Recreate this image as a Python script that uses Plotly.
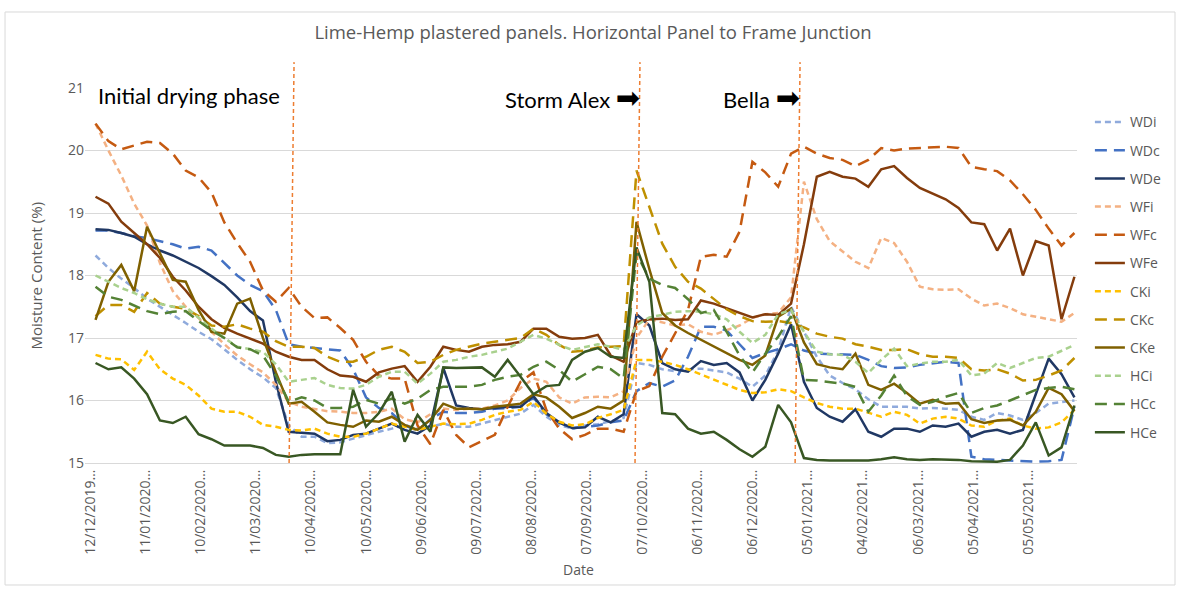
import pandas as pd
import plotly.graph_objects as go

# weekly readings (dates) and moisture content (%) per sensor
dates = pd.date_range("2019-12-15", periods=77, freq="7D")

WDi = [18.32, 18.12, 17.95, 17.8, 17.63, 17.5, 17.38, 17.24, 17.1, 16.98, 16.82, 16.65, 16.5, 16.37, 16.2, 15.6, 15.42, 15.42, 15.32, 15.33,
       15.39, 15.45, 15.5, 15.55, 15.61, 15.55, 15.58, 15.63, 15.58, 15.58, 15.63, 15.69, 15.74, 15.79, 15.93, 15.74, 15.61, 15.55, 15.6, 15.62, 15.67, 15.72,
       16.6, 16.57, 16.5, 16.47, 16.5, 16.51, 16.48, 16.45, 16.35, 16.22, 16.4, 16.8, 17.5,
       17.1, 16.7, 16.4, 16.28, 16.18, 16.02, 15.9, 15.9, 15.9, 15.87, 15.88, 15.87, 15.85, 15.74, 15.69, 15.8, 15.76, 15.69, 15.8, 15.95, 15.98, 16.0]
WDc = [18.72, 18.72, 18.68, 18.63, 18.6, 18.55, 18.5, 18.43, 18.46, 18.4, 18.2, 18.0, 17.85, 17.75, 17.45, 16.9, 16.86, 16.84, 16.82, 16.8,
       16.5, 16.05, 15.88, 15.8, 15.6, 15.52, 15.7, 15.82, 15.8, 15.8, 15.82, 15.87, 15.88, 15.9, 16.05, 15.78, 15.65, 15.55, 15.58, 15.6, 15.65, 15.68,
       16.15, 16.28, 16.22, 16.32, 16.7, 17.18, 17.18, 17.12, 16.9, 16.68, 16.76, 16.82, 16.9,
       16.8, 16.75, 16.74, 16.73, 16.73, 16.65, 16.55, 16.52, 16.53, 16.57, 16.6, 16.62, 16.6, 15.1, 15.06, 15.05, 15.03, 15.02, 15.02, 15.03, 15.05, 15.9]
WDe = [18.74, 18.73, 18.68, 18.62, 18.5, 18.4, 18.32, 18.22, 18.12, 17.99, 17.85, 17.65, 17.43, 17.28, 16.3, 15.5, 15.48, 15.47, 15.35, 15.37,
       15.45, 15.47, 15.55, 15.63, 15.53, 15.47, 15.6, 16.52, 15.92, 15.88, 15.86, 15.88, 15.9, 15.9, 16.07, 15.8, 15.65, 15.56, 15.57, 15.74, 15.65, 15.78,
       17.38, 17.2, 16.6, 16.5, 16.46, 16.63, 16.57, 16.6, 16.45, 16.0, 16.33, 16.75, 17.22,
       16.3, 15.88, 15.74, 15.66, 15.86, 15.5, 15.42, 15.55, 15.55, 15.5, 15.6, 15.58, 15.63, 15.42, 15.5, 15.53, 15.47, 15.53, 16.1, 16.67, 16.42, 16.05]
WFi = [20.43, 20.0, 19.6, 19.15, 18.8, 18.2, 17.75, 17.5, 17.32, 17.1, 16.9, 16.72, 16.58, 16.45, 16.25, 15.98, 15.9, 15.86, 15.83, 15.82,
       15.8, 15.8, 15.82, 15.87, 15.7, 15.65, 15.78, 15.87, 15.85, 15.87, 15.87, 15.92, 16.0, 16.2, 16.35, 16.3, 16.05, 15.95, 16.05, 16.06, 16.05, 16.15,
       17.0, 17.3, 17.25, 17.2, 17.22, 17.1, 17.05, 17.12, 17.2, 17.32, 17.38, 17.4, 17.65,
       19.5, 18.9, 18.55, 18.38, 18.22, 18.12, 18.6, 18.52, 18.22, 17.82, 17.78, 17.77, 17.78, 17.63, 17.52, 17.55, 17.48, 17.38, 17.34, 17.3, 17.26, 17.4]
WFc = [20.43, 20.15, 20.02, 20.08, 20.14, 20.12, 19.95, 19.68, 19.57, 19.33, 18.85, 18.52, 18.22, 17.76, 17.58, 17.8, 17.5, 17.32, 17.33, 17.16,
       16.97, 16.62, 16.4, 16.35, 16.35, 15.6, 15.3, 15.85, 15.45, 15.25, 15.35, 15.45, 15.9, 16.3, 16.45, 15.85, 15.55, 15.38, 15.45, 15.55, 15.55, 15.5,
       16.15, 16.23, 16.7, 17.08, 17.45, 18.3, 18.33, 18.3, 18.7, 19.82, 19.65, 19.42, 19.95,
       20.06, 19.95, 19.88, 19.85, 19.75, 19.85, 20.04, 20.0, 20.03, 20.04, 20.06, 20.06, 20.04, 19.74, 19.7, 19.67, 19.52, 19.3, 19.05, 18.75, 18.48, 18.68]
WFe = [19.26, 19.15, 18.86, 18.68, 18.5, 18.28, 17.98, 17.76, 17.5, 17.3, 17.16, 17.07, 16.99, 16.91, 16.78, 16.7, 16.65, 16.65, 16.5, 16.4,
       16.38, 16.3, 16.45, 16.51, 16.55, 16.3, 16.54, 16.86, 16.81, 16.78, 16.86, 16.89, 16.9, 16.94, 17.15, 17.15, 17.02, 16.99, 17.0, 17.05, 16.72, 16.62,
       17.25, 17.3, 17.31, 17.29, 17.3, 17.6, 17.55, 17.48, 17.4, 17.33, 17.38, 17.37, 17.55,
       18.5, 19.58, 19.66, 19.58, 19.55, 19.42, 19.7, 19.75, 19.56, 19.4, 19.31, 19.22, 19.08, 18.85, 18.82, 18.4, 18.75, 18.0, 18.55, 18.48, 17.3, 17.98]
CKi = [16.73, 16.67, 16.66, 16.49, 16.78, 16.5, 16.35, 16.25, 16.08, 15.87, 15.82, 15.82, 15.74, 15.61, 15.58, 15.53, 15.52, 15.55, 15.47, 15.42,
       15.42, 15.47, 15.55, 15.63, 15.58, 15.53, 15.58, 15.63, 15.62, 15.63, 15.69, 15.77, 15.82, 15.85, 15.98, 15.79, 15.66, 15.6, 15.62, 15.72, 15.78, 15.85,
       16.65, 16.65, 16.62, 16.57, 16.5, 16.42, 16.33, 16.25, 16.17, 16.12, 16.13, 16.18, 16.15,
       16.05, 15.96, 15.9, 15.87, 15.87, 15.8, 15.74, 15.82, 15.77, 15.63, 15.71, 15.74, 15.71, 15.6, 15.58, 15.68, 15.71, 15.6, 15.55, 15.57, 15.65, 15.85]
CKc = [17.35, 17.53, 17.53, 17.42, 17.72, 17.55, 17.5, 17.47, 17.35, 17.2, 17.18, 17.22, 17.15, 17.1, 16.95, 16.86, 16.86, 16.84, 16.7, 16.62,
       16.62, 16.7, 16.81, 16.86, 16.78, 16.6, 16.62, 16.73, 16.81, 16.86, 16.91, 16.94, 16.97, 17.0, 17.15, 17.05, 16.89, 16.78, 16.8, 16.85, 16.86, 16.87,
       19.68, 19.1, 18.51, 18.14, 17.9, 17.79, 17.62, 17.46, 17.35, 17.27, 17.26, 17.27, 17.24,
       17.17, 17.07, 17.02, 16.99, 16.9, 16.86, 16.81, 16.81, 16.82, 16.74, 16.7, 16.7, 16.68, 16.5, 16.48, 16.5, 16.43, 16.32, 16.33, 16.4, 16.48, 16.68]
CKe = [17.29, 17.9, 18.17, 17.75, 18.78, 18.35, 17.93, 17.9, 17.45, 17.1, 17.07, 17.55, 17.63, 17.0, 16.45, 15.95, 15.98, 15.82, 15.65, 15.61,
       15.58, 15.68, 15.66, 15.74, 15.61, 15.53, 15.69, 15.95, 15.87, 15.87, 15.86, 15.9, 15.93, 15.95, 16.1, 16.05, 15.9, 15.72, 15.8, 15.9, 15.87, 16.0,
       18.86, 18.1, 17.4, 17.2, 17.08, 16.97, 16.87, 16.76, 16.65, 16.57, 16.72, 17.34, 17.47,
       16.93, 16.58, 16.53, 16.5, 16.75, 16.25, 16.17, 16.27, 16.12, 15.95, 16.01, 15.95, 15.96, 15.7, 15.64, 15.68, 15.69, 15.6, 15.82, 16.2, 16.1, 15.83]
HCi = [18.0, 17.9, 17.8, 17.72, 17.62, 17.55, 17.5, 17.5, 17.33, 17.15, 17.0, 16.86, 16.82, 16.78, 16.58, 16.3, 16.33, 16.36, 16.25, 16.2,
       16.19, 16.25, 16.38, 16.46, 16.46, 16.27, 16.43, 16.62, 16.65, 16.7, 16.73, 16.78, 16.83, 16.94, 17.05, 16.99, 16.89, 16.81, 16.85, 16.9, 16.86, 16.81,
       17.2, 17.33, 17.37, 17.42, 17.43, 17.42, 17.38, 17.3, 17.1, 16.92, 17.05, 17.38, 17.45,
       17.1, 16.78, 16.74, 16.73, 16.62, 16.44, 16.65, 16.83, 16.55, 16.59, 16.62, 16.62, 16.65, 16.4, 16.43, 16.6, 16.52, 16.6, 16.68, 16.7, 16.8, 16.89]
HCc = [17.82, 17.66, 17.61, 17.52, 17.43, 17.38, 17.42, 17.43, 17.28, 17.12, 17.0, 16.85, 16.82, 16.72, 16.4, 15.98, 16.05, 16.0, 15.88, 15.88,
       15.9, 16.01, 15.95, 16.03, 15.95, 16.03, 16.17, 16.22, 16.22, 16.22, 16.25, 16.33, 16.38, 16.41, 16.54, 16.62, 16.49, 16.3, 16.42, 16.54, 16.5, 16.35,
       18.35, 17.95, 17.85, 17.8, 17.62, 17.4, 17.45, 17.1, 16.72, 16.45, 16.75, 17.02, 17.35,
       16.33, 16.32, 16.3, 16.27, 16.22, 15.82, 16.08, 16.4, 16.07, 15.93, 15.98, 16.06, 16.12, 15.8, 15.88, 15.92, 16.0, 16.08, 16.17, 16.2, 16.22, 16.18]
HCe = [16.6, 16.5, 16.53, 16.35, 16.1, 15.68, 15.64, 15.74, 15.46, 15.38, 15.28, 15.28, 15.28, 15.24, 15.13, 15.1, 15.13, 15.14, 15.14, 15.14,
       16.17, 15.58, 15.8, 16.14, 15.34, 15.77, 15.5, 16.53, 16.52, 16.52, 16.53, 16.38, 16.65, 16.38, 16.1, 16.23, 16.25, 16.65, 16.78, 16.84, 16.7, 16.68,
       18.45, 17.9, 15.8, 15.78, 15.55, 15.47, 15.5, 15.37, 15.22, 15.1, 15.26, 15.93, 15.65,
       15.08, 15.05, 15.04, 15.04, 15.04, 15.04, 15.06, 15.09, 15.06, 15.05, 15.06, 15.06, 15.05, 15.03, 15.02, 15.02, 15.05, 15.28, 15.65, 15.12, 15.25, 15.92]

names = ["WDi", "WDc", "WDe", "WFi", "WFc", "WFe", "CKi", "CKc", "CKe", "HCi", "HCc", "HCe"]
values = [WDi, WDc, WDe, WFi, WFc, WFe, CKi, CKc, CKe, HCi, HCc, HCe]
colors = ["#8FAADC", "#4472C4", "#203864", "#F4B183", "#C55A11", "#843C0C",
          "#FFC000", "#BF9000", "#7F6000", "#A9D18E", "#548235", "#385723"]
dashes = ["6px,4px", "12px,7px", "solid"] * 4

tick_dates = pd.date_range("2019-12-12", periods=18, freq="30D")
tick_text = [d.strftime("%d/%m/%Y") + "\u2026" for d in tick_dates]

fig = go.Figure()
for n, v, c, d in zip(names, values, colors, dashes):
    fig.add_trace(go.Scatter(x=dates, y=v, name=n, mode="lines", legendgroup=n,
                             line=dict(color=c, width=2.5, dash=d)))

base = pd.Timestamp("2019-12-12")
def day(off):
    return (base + pd.Timedelta(days=off)).isoformat()

x_start = day(-2.72)
x_end = day(536.4)

GRAY = "#595959"
FONT = "Open Sans, DejaVu Sans, sans-serif"
ANN_FONT = "Lato, Open Sans, sans-serif"
ARROW = '<span style="font-family:DejaVu Sans;font-size:29px">\u27A1</span>'

# event lines (hand-drawn, slightly slanted in original)
shapes = []
for top, bot in [(110.9, 108.2), (298.9, 296.2), (385.9, 383.2)]:
    shapes.append(dict(type="line", xref="x", yref="paper", x0=day(bot), y0=0, x1=day(top), y1=1.069,
                       line=dict(color="#ED7D31", width=1.5, dash="4px,3px")))
# chart border
shapes.append(dict(type="rect", xref="paper", yref="paper", x0=-0.0806, x1=1.0988, y0=-0.3253, y1=1.2027,
                   line=dict(color="#D9D9D9", width=1), fillcolor="rgba(0,0,0,0)", layer="below"))

annotations = [
    dict(text="Initial drying phase", xref="paper", yref="paper", x=0.0111, y=0.9787,
         xanchor="left", yanchor="middle", showarrow=False,
         font=dict(family=ANN_FONT, size=22, color="#000000")),
    dict(text="Storm Alex " + ARROW, xref="paper", yref="paper", x=0.5615, y=0.9733,
         xanchor="right", yanchor="middle", showarrow=False,
         font=dict(family=ANN_FONT, size=22, color="#000000")),
    dict(text="Bella " + ARROW, xref="paper", yref="paper", x=0.7228, y=0.9733,
         xanchor="right", yanchor="middle", showarrow=False,
         font=dict(family=ANN_FONT, size=22, color="#000000")),
    dict(text="Moisture Content (%)", xref="paper", yref="paper", x=-0.0504, y=0.5,
         xanchor="center", yanchor="middle", textangle=-90, showarrow=False,
         font=dict(family=FONT, size=15, color=GRAY)),
    dict(text="Date", xref="paper", yref="paper", x=0.497, y=-0.2853,
         xanchor="center", yanchor="middle", showarrow=False,
         font=dict(family=FONT, size=14, color=GRAY)),
]

fig.update_layout(
    width=1179, height=590,
    margin=dict(l=85, r=102, t=88, b=127),
    paper_bgcolor="white", plot_bgcolor="white",
    font=dict(family=FONT, size=14, color=GRAY),
    title=dict(text="Lime-Hemp plastered panels. Horizontal Panel to Frame Junction",
               x=0.503, xref="container", y=1 - 33 / 590, yref="container",
               xanchor="center", yanchor="middle",
               font=dict(family=FONT, size=18.5, color=GRAY)),
    xaxis=dict(range=[x_start, x_end], tickmode="array", tickvals=tick_dates, ticktext=tick_text,
               tickangle=-90, showgrid=False, zeroline=False, showline=True,
               linecolor="#D9D9D9", linewidth=1, ticks="", tickfont=dict(size=14, color=GRAY)),
    yaxis=dict(range=[15, 21], dtick=1, showgrid=True, gridcolor="#D9D9D9", gridwidth=1,
               zeroline=False, showline=False, ticks="", tickfont=dict(size=14, color=GRAY)),
    legend=dict(x=1.013, y=0.951, xanchor="left", yanchor="top", traceorder="grouped",
                tracegroupgap=7, font=dict(family=FONT, size=14, color=GRAY),
                bgcolor="rgba(0,0,0,0)"),
    shapes=shapes,
    annotations=annotations,
    showlegend=True,
)

fig.write_html("out.html", config={"displayModeBar": False},
               post_script="document.body.style.margin='0px';")
